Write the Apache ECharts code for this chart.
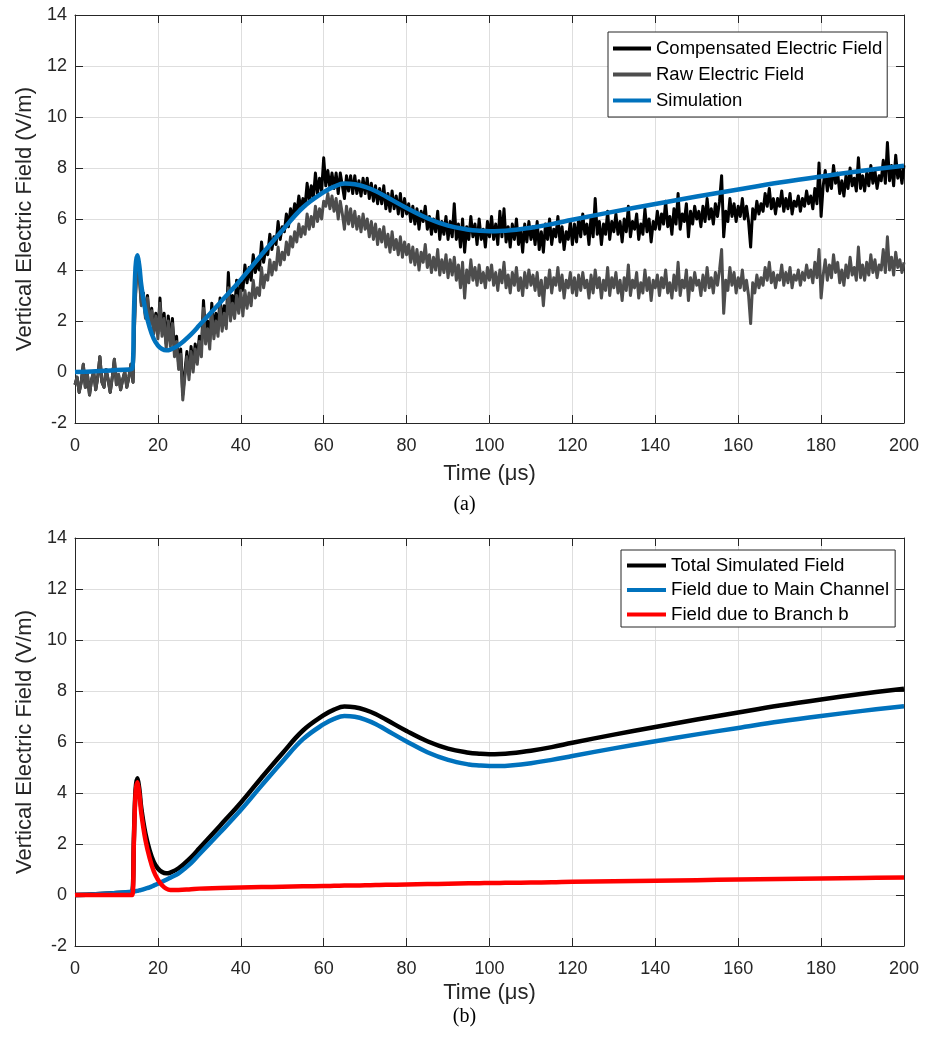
<!DOCTYPE html>
<html>
<head>
<meta charset="utf-8">
<script src="https://cdn.jsdelivr.net/npm/echarts@6/dist/echarts.min.js"></script>
<style>
html,body{margin:0;padding:0;background:#fff;}
#c{width:929px;height:1040px;}
</style>
</head>
<body>
<div id="c"></div>
<script>
// ---------------- DATA ----------------
// Measured fields (a): sampled every 0.5 us from 0 to 200 us
const sampleStep = 0.5;
const rawField = [
 -0.5,-0.2,-0.8,-0.4,0.3,-0.6,-0.1,-0.9,-0.3,0.0,-0.7,-0.2,0.6,-0.4,-0.6,0.1,-0.3,-0.8,-0.2,0.5,-0.5,-0.1,-0.7,-0.3,0.0,-0.6,-0.2,0.3,-0.4,
 2.6,4.2,3.7,2.6,3.0,2.1,2.9,1.8,2.4,1.5,2.2,1.3,2.7,1.4,2.1,0.9,2.0,1.0,1.9,0.6,1.2,0.1,0.7,-1.1,-0.2,0.6,-0.3,0.8,0.0,0.9,0.3,1.2,
 0.6,2.5,1.1,1.7,0.9,2.4,1.3,2.0,1.4,2.6,1.6,2.3,1.7,3.3,2.0,2.7,2.1,3.0,2.3,3.2,
 2.2,3.2,2.5,3.1,2.6,3.6,2.9,3.3,3.0,4.1,3.3,3.8,3.6,4.4,3.8,4.3,4.0,4.9,4.2,4.7,
 4.4,5.1,4.6,5.3,4.9,5.5,5.1,5.8,5.3,5.7,5.4,6.2,5.6,6.1,5.7,6.5,5.9,6.4,6.0,6.7,
 6.5,7.0,6.4,6.9,6.3,6.8,6.0,6.7,6.2,5.6,6.5,5.8,6.4,5.7,6.3,5.6,6.1,5.5,6.2,5.6,
 6.0,5.3,5.9,5.2,5.8,5.0,5.6,5.1,5.7,4.9,5.4,4.7,5.5,4.8,5.2,4.6,5.3,4.5,5.1,4.6,
 5.0,4.3,4.9,4.2,4.8,4.0,4.7,4.3,5.0,4.1,4.6,3.9,4.5,4.0,4.8,3.8,4.4,3.9,4.6,3.7,
 4.4,3.8,4.5,3.6,4.2,3.3,4.3,2.9,4.0,3.5,4.4,3.6,4.1,3.4,4.2,3.5,3.9,3.3,4.1,3.6,
 4.2,3.4,3.9,3.2,4.0,3.5,4.3,3.3,3.8,3.1,3.9,3.4,4.1,3.2,3.7,3.0,3.9,3.3,4.0,3.4,
 3.8,3.2,3.9,3.0,3.6,2.6,3.7,3.3,4.0,3.1,3.7,3.4,4.1,3.2,3.8,2.9,3.6,3.3,3.9,3.1,
 3.7,3.0,3.8,3.2,3.9,3.3,3.6,2.9,3.8,3.1,4.0,3.3,3.7,2.9,3.6,3.2,4.1,3.0,3.7,3.3,
 3.9,3.1,3.6,2.8,3.7,3.2,4.2,3.0,3.6,3.3,3.9,2.9,3.5,3.1,4.0,3.2,3.7,2.8,3.6,3.3,
 3.8,3.0,3.7,3.3,4.0,3.1,3.5,2.9,3.8,3.2,4.3,3.0,3.6,3.3,4.0,2.8,3.7,3.2,3.9,3.4,
 3.6,3.0,3.8,3.2,4.1,3.3,3.7,3.1,3.9,3.4,4.0,4.8,2.3,3.6,3.2,4.1,3.4,3.9,3.1,3.7,
 3.3,4.0,3.2,3.6,3.0,1.9,3.5,3.1,3.8,3.3,3.7,3.4,4.1,3.6,4.3,3.5,3.9,3.3,3.8,3.6,
 4.2,3.4,3.9,3.5,4.1,3.3,3.8,3.6,4.0,3.4,3.9,3.6,4.2,3.7,4.0,3.5,4.3,3.7,4.8,2.9,
 3.8,4.4,3.6,4.2,3.7,4.6,3.9,4.3,3.5,4.0,3.4,4.2,3.7,4.5,3.8,4.1,3.6,4.9,3.7,4.2,
 3.6,4.3,3.8,4.6,3.9,4.4,3.7,4.2,4.0,4.8,3.9,5.3,4.0,4.5,3.8,4.7,4.1,4.4,3.9,4.3
];
const compField = [
 -0.5,-0.2,-0.8,-0.4,0.3,-0.6,-0.1,-0.9,-0.3,0.0,-0.7,-0.2,0.6,-0.4,-0.6,0.1,-0.3,-0.8,-0.2,0.5,-0.5,-0.1,-0.7,-0.3,0.0,-0.6,-0.2,0.3,-0.4,
 2.7,4.5,3.9,2.7,3.1,2.2,3.0,1.9,2.5,1.6,2.3,1.5,2.9,1.6,2.3,1.1,2.2,1.2,2.1,0.8,1.4,0.3,0.9,-0.9,0.0,0.8,-0.1,1.0,0.2,1.1,0.5,1.4,
 0.9,2.8,1.4,2.0,1.2,2.7,1.6,2.3,1.7,2.9,1.9,2.6,2.0,3.9,2.3,3.0,2.4,3.6,2.6,3.5,
 3.2,4.2,3.5,4.1,3.6,4.6,3.9,4.3,4.0,5.1,4.3,4.8,4.6,5.4,4.8,5.3,5.0,5.9,5.2,5.7,
 5.5,6.2,5.7,6.4,6.0,6.6,6.2,6.9,6.4,6.8,6.5,7.4,6.7,7.3,6.8,7.8,7.0,7.6,7.1,8.4,
 7.3,7.9,7.2,7.8,7.2,7.8,7.0,7.8,7.3,6.8,7.7,7.1,7.7,7.0,7.7,7.0,7.5,6.9,7.6,7.0,
 7.6,6.8,7.4,6.7,7.3,6.6,7.2,6.6,7.3,6.4,7.0,6.3,7.1,6.4,6.9,6.2,7.0,6.1,6.8,6.2,
 6.6,5.9,6.5,5.8,6.4,5.6,6.3,5.9,6.5,5.6,6.1,5.4,6.0,5.5,6.3,5.2,5.9,5.4,6.1,5.2,
 5.9,5.3,6.6,5.2,5.8,4.9,6.0,4.7,5.7,5.2,6.1,5.3,5.8,5.0,6.0,5.2,5.6,4.9,5.9,5.3,
 6.1,5.2,5.8,5.0,6.3,5.3,6.4,5.1,5.7,4.9,5.8,5.2,6.0,5.0,5.6,4.7,5.8,5.1,5.9,5.2,
 5.7,5.0,5.9,4.8,5.5,4.7,5.8,5.2,6.0,5.0,5.6,5.3,6.1,5.1,5.7,4.8,5.5,5.2,5.9,5.0,
 5.8,5.1,6.0,5.3,6.2,5.4,5.8,5.0,6.1,5.3,6.8,5.4,5.9,5.0,5.8,5.4,6.3,5.2,5.9,5.5,
 6.2,5.4,5.9,5.1,6.0,5.5,6.5,5.3,5.9,5.6,6.2,5.2,5.8,5.4,6.4,5.5,6.0,5.1,5.9,5.6,
 6.3,5.6,6.2,5.8,6.7,5.7,6.1,5.4,6.4,5.8,7.0,5.6,6.2,5.9,6.6,5.3,6.3,5.8,6.5,6.0,
 6.3,5.7,6.5,5.9,6.8,6.0,6.4,5.8,6.6,6.1,6.7,7.7,5.3,6.3,5.9,6.8,6.1,6.6,5.9,6.5,
 6.1,6.8,6.0,6.5,5.9,4.9,6.4,6.0,6.7,6.2,6.6,6.3,7.0,6.5,7.2,6.4,6.8,6.2,6.8,6.5,
 7.1,6.3,6.8,6.4,7.0,6.2,6.7,6.5,6.9,6.3,6.8,6.5,7.1,6.6,6.9,6.4,7.2,6.6,8.2,6.1,
 7.3,7.9,7.1,7.7,7.2,8.1,7.4,7.8,7.0,7.5,6.9,7.7,7.2,8.0,7.3,7.6,7.1,8.4,7.2,7.7,
 7.1,7.8,7.3,8.1,7.4,7.9,7.2,7.7,7.5,8.3,7.4,9.0,7.5,8.1,7.3,8.5,7.6,8.0,7.4,8.1
];
// Simulated fields (a) and (b)
const simTime   = [0,5,10,13.8,14.2,14.6,15,15.5,16,17,18,19,20,21,22,23,25,28,30,35,40,45,50,55,60,62.5,65,67.5,70,72.5,75,80,85,90,95,97.5,100,102.5,105,110,115,120,130,140,150,160,170,180,190,200];
const simTotal  = [0,0.03,0.08,0.13,2.19,4.1,4.58,4.18,3.4,2.4,1.75,1.3,1.04,0.9,0.85,0.88,1.05,1.48,1.83,2.72,3.62,4.6,5.55,6.45,7.05,7.27,7.39,7.36,7.26,7.1,6.88,6.43,6.03,5.74,5.58,5.54,5.52,5.53,5.56,5.66,5.8,5.97,6.29,6.59,6.88,7.16,7.43,7.67,7.89,8.09];
const simMain   = [0,0.03,0.08,0.13,0.14,0.15,0.16,0.18,0.2,0.25,0.3,0.37,0.44,0.52,0.6,0.68,0.85,1.25,1.6,2.45,3.33,4.29,5.23,6.11,6.7,6.91,7.02,6.99,6.88,6.71,6.48,6.02,5.6,5.3,5.12,5.08,5.06,5.06,5.08,5.17,5.3,5.45,5.75,6.03,6.3,6.55,6.8,7.02,7.22,7.4];
const simBranch = [0,0,0,0,2.05,3.95,4.42,4.0,3.2,2.15,1.45,0.93,0.6,0.38,0.25,0.2,0.2,0.23,0.25,0.27,0.29,0.31,0.32,0.34,0.35,0.36,0.37,0.375,0.38,0.39,0.4,0.41,0.43,0.44,0.46,0.465,0.47,0.475,0.48,0.49,0.5,0.52,0.54,0.56,0.58,0.61,0.63,0.65,0.67,0.69];

const legendA = ['Compensated Electric Field','Raw Electric Field','Simulation'];
const legendB = ['Total Simulated Field','Field due to Main Channel','Field due to Branch b'];
const xName = 'Time (\u03bcs)';
const yName = 'Vertical Electric Field (V/m)';
const xMin = 0, xMax = 200, xStep = 20;
const yMin = -2, yMax = 14, yStep = 2;

// --------------- BUILD ---------------
const FONT = '"Liberation Sans", Arial, Helvetica, sans-serif';
const AX = '#262626';
const sampled = arr => arr.map((v, i) => [i * sampleStep, v]);
const paired = (xs, ys) => xs.map((x, i) => [x, ys[i]]);

function xAxes(g, gap) {
  return [
    { type:'value', gridIndex:g, min:xMin, max:xMax, interval:xStep, position:'bottom',
      axisLine:{show:true,onZero:false,lineStyle:{color:AX,width:1}},
      axisTick:{show:true,inside:true,length:8,lineStyle:{color:AX}},
      axisLabel:{margin:14,color:AX,fontSize:18,fontFamily:FONT},
      splitLine:{show:true,lineStyle:{color:'#dedede',width:1}},
      name:xName, nameLocation:'middle', nameGap:gap,
      nameTextStyle:{fontSize:22,color:AX,fontFamily:FONT} },
    { type:'value', gridIndex:g, min:xMin, max:xMax, interval:xStep, position:'top',
      axisLine:{show:true,onZero:false,lineStyle:{color:AX,width:1}},
      axisTick:{show:true,inside:true,length:8,lineStyle:{color:AX}},
      axisLabel:{show:false}, splitLine:{show:false} }
  ];
}
function yAxes(g) {
  return [
    { type:'value', gridIndex:g, min:yMin, max:yMax, interval:yStep, position:'left',
      axisLine:{show:true,onZero:false,lineStyle:{color:AX,width:1}},
      axisTick:{show:true,inside:true,length:8,lineStyle:{color:AX}},
      axisLabel:{margin:8,color:AX,fontSize:18,fontFamily:FONT},
      splitLine:{show:true,lineStyle:{color:'#dedede',width:1}},
      name:yName, nameLocation:'middle', nameGap:36,
      nameTextStyle:{fontSize:22,color:AX,fontFamily:FONT} },
    { type:'value', gridIndex:g, min:yMin, max:yMax, interval:yStep, position:'right',
      axisLine:{show:true,onZero:false,lineStyle:{color:AX,width:1}},
      axisTick:{show:true,inside:true,length:8,lineStyle:{color:AX}},
      axisLabel:{show:false}, splitLine:{show:false} }
  ];
}
function line(name, data, xi, color, width, smooth) {
  return { type:'line', name, data, xAxisIndex:xi, yAxisIndex:xi, showSymbol:false, symbol:'none',
    smooth: smooth || false, lineStyle:{color, width, join:'round'}, itemStyle:{color},
    emphasis:{disabled:true}, animation:false };
}
const legendCommon = {
  orient:'vertical', icon:'rect', selectedMode:false,
  borderColor:AX, borderWidth:1, backgroundColor:'#fff'
};

const chart = echarts.init(document.getElementById('c'), null, {renderer:'canvas'});
chart.setOption({
  animation:false,
  backgroundColor:'#fff',
  grid:[
    {left:75, top:15, width:829, height:408},
    {left:75, top:538, width:829, height:408}
  ],
  xAxis:[...xAxes(0, 40), ...xAxes(1, 36)],
  yAxis:[...yAxes(0), ...yAxes(1)],
  legend:[
    Object.assign({}, legendCommon, {data:legendA, left:608, top:32, itemWidth:38, itemHeight:4, itemGap:7,
      padding:[7,5,7,5], textStyle:{color:'#000',fontFamily:FONT,fontSize:18.5}}),
    Object.assign({}, legendCommon, {data:legendB, left:621, top:550, itemWidth:39, itemHeight:4, itemGap:5.5,
      padding:[6,6,3,6], textStyle:{color:'#000',fontFamily:FONT,fontSize:18.7}})
  ],
  series:[
    line(legendA[0], sampled(compField), 0, '#000000', 3),
    line(legendA[1], sampled(rawField), 0, '#4d4d4d', 3),
    line(legendA[2], paired(simTime, simTotal), 0, '#0072BD', 4.5, 0.4),
    line(legendB[0], paired(simTime, simTotal), 2, '#000000', 4.5, 0.4),
    line(legendB[1], paired(simTime, simMain), 2, '#0072BD', 4.5, 0.4),
    line(legendB[2], paired(simTime, simBranch), 2, '#ff0000', 4.5, 0.4)
  ],
  graphic:[
    {type:'text', style:{text:'(a)', x:464.5, y:505, textAlign:'center', textVerticalAlign:'middle', align:'center', verticalAlign:'middle',
      font:'20px "Liberation Serif", "Times New Roman", serif', fill:'#000'}},
    {type:'text', style:{text:'(b)', x:464.5, y:1017, textAlign:'center', textVerticalAlign:'middle', align:'center', verticalAlign:'middle',
      font:'20px "Liberation Serif", "Times New Roman", serif', fill:'#000'}}
  ]
});
</script>
</body>
</html>
